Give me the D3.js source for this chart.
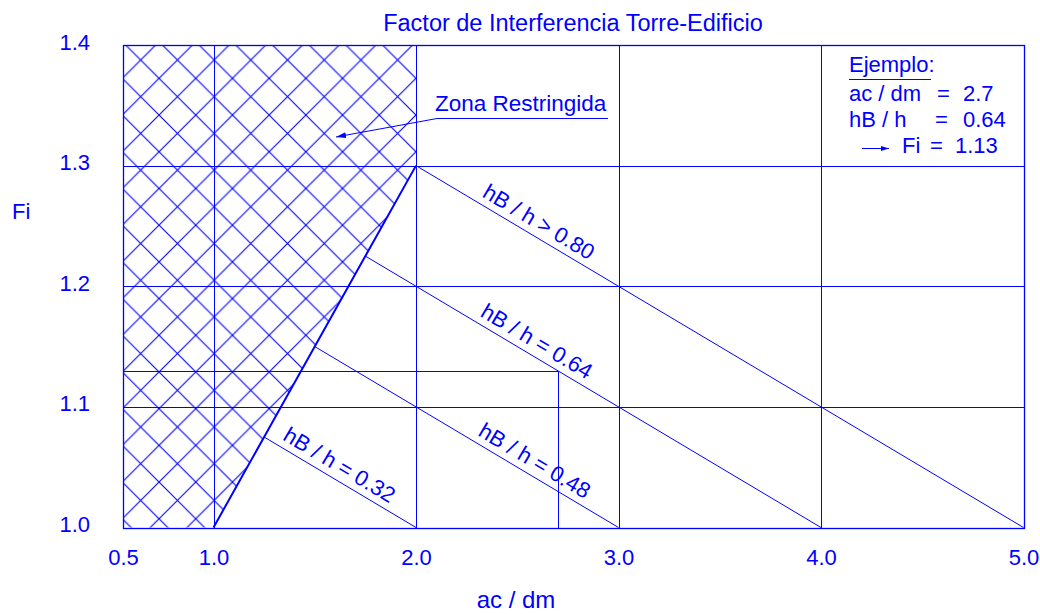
<!DOCTYPE html>
<html lang="es">
<head>
    <meta charset="UTF-8">
    <title>Factor de Interferencia Torre-Edificio</title>
    <script src="https://d3js.org/d3.v7.min.js"></script>
    <style>
        body { margin: 0; background: #fff; }
        text { font-family: "Liberation Sans", Arial, sans-serif; fill: #0000ff; }
    </style>
</head>
<body>
<svg width="1040" height="614"></svg>

<script>
    // values
    var xTicks = [0.5, 1.0, 2.0, 3.0, 4.0, 5.0];
    var yTicks = [1.0, 1.1, 1.2, 1.3, 1.4];
    var xGrid = [1.0, 2.0, 3.0, 4.0];
    var yGrid = [1.1, 1.2, 1.3];

    // limit of the restricted zone, and the zone itself
    var boundary = [[1.0, 1.0], [1.25, 1.075], [1.5, 1.15], [1.75, 1.225], [2.0, 1.3]];
    var zone = [[0.5, 1.0], [1.0, 1.0], [2.0, 1.3], [2.0, 1.4], [0.5, 1.4]];

    // hB / h curves
    var curveLabels = ["hB / h > 0.80", "hB / h = 0.64", "hB / h = 0.48", "hB / h = 0.32"];
    var curveStart = [[2.0, 1.3], [1.75, 1.225], [1.5, 1.15], [1.25, 1.075]];
    var curveEnd = [[5.0, 1.0], [4.0, 1.0], [3.0, 1.0], [2.0, 1.0]];
    var curveLabelAt = [2.57, 2.56, 2.55, 1.585];

    // worked example
    var exAc = 2.7, exHb = 0.64, exFi = 1.13;

    var blue = "#0000ff";
    var svg = d3.select("svg");

    var x = d3.scaleLinear().domain([0.5, 1.0, 5.0]).range([123, 213.5, 1023.5]);
    var y = d3.scaleLinear().domain([1.0, 1.4]).range([527.5, 45]);
    function px(v) { return Math.round(x(v)) + 0.5; }
    function py(v) { return Math.round(y(v)) + 0.5; }

    var defs = svg.append("defs");
    var hatch = defs.append("pattern")
        .attr("id", "hatch")
        .attr("patternUnits", "userSpaceOnUse")
        .attr("x", 122.35).attr("y", 41.65)
        .attr("width", 36.7).attr("height", 36.7);
    hatch.append("path")
        .attr("d", "M-1,-1L37.7,37.7M37.7,-1L-1,37.7")
        .attr("stroke", blue).attr("stroke-width", 1.1).attr("fill", "none");

    defs.append("marker")
        .attr("id", "head")
        .attr("viewBox", "0 0 10 6")
        .attr("refX", 10).attr("refY", 3)
        .attr("markerWidth", 10).attr("markerHeight", 6)
        .attr("markerUnits", "userSpaceOnUse")
        .attr("orient", "auto")
        .append("path")
        .attr("d", "M0,0L10,3L0,6Z")
        .attr("fill", blue);

    defs.append("marker")
        .attr("id", "head2")
        .attr("viewBox", "0 0 8 6")
        .attr("refX", 8).attr("refY", 3)
        .attr("markerWidth", 8).attr("markerHeight", 6)
        .attr("markerUnits", "userSpaceOnUse")
        .attr("orient", "auto")
        .append("path")
        .attr("d", "M0,0.5L8,3L0,5.5Z")
        .attr("fill", blue);

    var line = d3.line().x(function (d) { return x(d[0]); }).y(function (d) { return y(d[1]); });

    // hatched zone
    svg.append("path")
        .attr("d", line(zone) + "Z")
        .attr("fill", "url(#hatch)");

    // grid
    svg.append("g").selectAll("line")
        .data(xGrid).enter().append("line")
        .attr("x1", px).attr("x2", px)
        .attr("y1", py(1.0)).attr("y2", py(1.4))
        .attr("stroke", blue).attr("stroke-width", 1);
    svg.append("g").selectAll("line")
        .data(yGrid).enter().append("line")
        .attr("y1", py).attr("y2", py)
        .attr("x1", px(0.5)).attr("x2", px(5.0))
        .attr("stroke", blue).attr("stroke-width", 1);

    svg.append("rect")
        .attr("x", px(0.5)).attr("y", py(1.4))
        .attr("width", px(5.0) - px(0.5)).attr("height", py(1.0) - py(1.4))
        .attr("fill", "none").attr("stroke", blue).attr("stroke-width", 1.3);

    // zone limit
    svg.append("path")
        .attr("d", line(boundary))
        .attr("fill", "none").attr("stroke", blue).attr("stroke-width", 2);

    // curves
    curveLabels.forEach(function (lab, i) {
        var p0 = curveStart[i], p1 = curveEnd[i];
        svg.append("path")
            .attr("d", line([p0, p1]))
            .attr("fill", "none").attr("stroke", blue).attr("stroke-width", 1);
        var ang = Math.atan2(y(p1[1]) - y(p0[1]), x(p1[0]) - x(p0[0])) * 180 / Math.PI;
        var lx = curveLabelAt[i];
        var ly = p0[1] + (p1[1] - p0[1]) * (lx - p0[0]) / (p1[0] - p0[0]);
        svg.append("text")
            .attr("transform", "translate(" + x(lx) + "," + y(ly) + ") rotate(" + ang + ")")
            .attr("dy", -7)
            .attr("text-anchor", "middle")
            .style("font-size", "22px")
            .text(lab);
    });

    // example reading
    svg.append("path")
        .attr("d", "M" + px(0.5) + "," + py(exFi) + "H" + px(exAc) + "V" + py(1.0))
        .attr("fill", "none").attr("stroke", blue).attr("stroke-width", 1);

    // axes
    var xAxis = svg.append("g")
        .attr("transform", "translate(0," + y(1.0) + ")")
        .call(d3.axisBottom(x).tickValues(xTicks).tickFormat(d3.format(".1f")).tickSize(0));
    xAxis.select(".domain").remove();
    xAxis.selectAll("text")
        .attr("y", 37).attr("dy", null)
        .attr("fill", blue)
        .style("font-size", "22px");

    var yAxis = svg.append("g")
        .attr("transform", "translate(90,0)")
        .call(d3.axisLeft(y).tickValues(yTicks).tickFormat(d3.format(".1f")).tickSize(0));
    yAxis.select(".domain").remove();
    yAxis.selectAll("text")
        .attr("x", 0).attr("dy", 4)
        .attr("fill", blue)
        .style("font-size", "22px");

    svg.append("text")
        .attr("x", 573).attr("y", 31)
        .attr("text-anchor", "middle")
        .style("font-size", "23.5px")
        .text("Factor de Interferencia Torre-Edificio");

    svg.append("text")
        .attr("x", 516).attr("y", 608)
        .attr("text-anchor", "middle")
        .style("font-size", "24px")
        .text("ac / dm");

    svg.append("text")
        .attr("x", 12).attr("y", 219)
        .style("font-size", "22px")
        .text("Fi");

    // restricted zone note
    svg.append("text")
        .attr("x", 435).attr("y", 111)
        .style("font-size", "22.5px")
        .text("Zona Restringida");
    svg.append("path")
        .attr("d", "M608,118.5L437,118.5L336,137")
        .attr("fill", "none").attr("stroke", blue).attr("stroke-width", 1)
        .attr("marker-end", "url(#head)");

    // example box
    var ex = svg.append("g").style("font-size", "22px");
    ex.append("text").attr("x", 849).attr("y", 72).text("Ejemplo:");
    ex.append("line").attr("x1", 849).attr("x2", 931).attr("y1", 79.5).attr("y2", 79.5)
        .attr("stroke", blue).attr("stroke-width", 1);

    ex.append("text").attr("x", 849).attr("y", 101).text("ac / dm");
    ex.append("text").attr("x", 937).attr("y", 101).text("=");
    ex.append("text").attr("x", 963).attr("y", 101).text(d3.format(".1f")(exAc));

    ex.append("text").attr("x", 849).attr("y", 127).text("hB / h");
    ex.append("text").attr("x", 935).attr("y", 127).text("=");
    ex.append("text").attr("x", 963).attr("y", 127).text(d3.format(".2f")(exHb));

    ex.append("line").attr("x1", 862).attr("x2", 889).attr("y1", 148.5).attr("y2", 148.5)
        .attr("stroke", blue).attr("stroke-width", 1)
        .attr("marker-end", "url(#head2)");
    ex.append("text").attr("x", 902).attr("y", 153).text("Fi");
    ex.append("text").attr("x", 930).attr("y", 153).text("=");
    ex.append("text").attr("x", 955).attr("y", 153).text(d3.format(".2f")(exFi));
</script>

</body>

</html>
